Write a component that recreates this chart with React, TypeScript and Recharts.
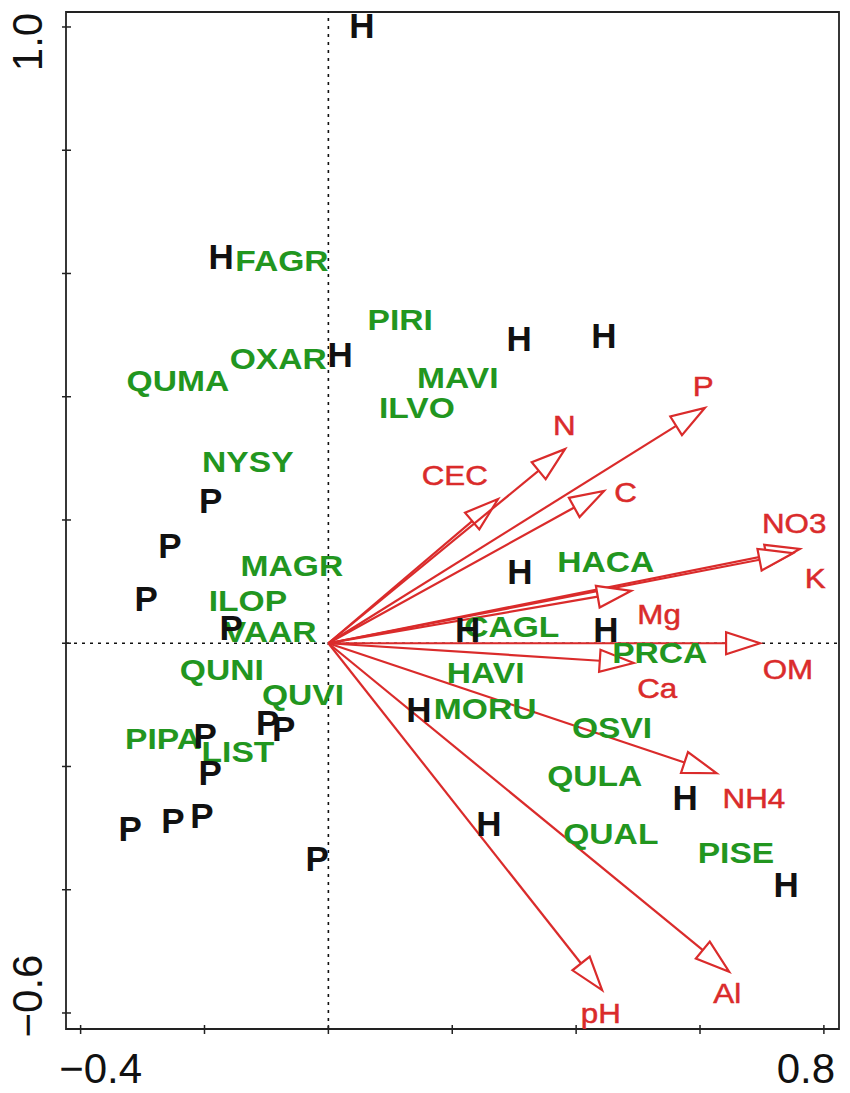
import { ReferenceArea, ReferenceLine, Scatter, ScatterChart, XAxis, YAxis } from "recharts";

// sites (H / P)
const SITE_LABELS = ["H", "H", "H", "H", "H", "H", "H", "H", "H", "H", "H", "H", "P", "P", "P", "P", "P", "P", "P", "P", "P", "P", "P", "P"];
const SITE_X = [0.054, -0.173, 0.019, 0.308, 0.445, 0.309, 0.225, 0.448, 0.146, 0.259, 0.576, 0.739, -0.19, -0.256, -0.294, -0.157, -0.199, -0.098, -0.072, -0.191, -0.32, -0.251, -0.204, -0.018];
const SITE_Y = [1.003, 0.628, 0.468, 0.495, 0.5, 0.116, 0.022, 0.022, -0.107, -0.293, -0.251, -0.391, 0.232, 0.158, 0.072, 0.025, -0.149, -0.129, -0.138, -0.209, -0.3, -0.287, -0.279, -0.35];

// species scores
const SPECIES = ["FAGR", "PIRI", "OXAR", "QUMA", "MAVI", "ILVO", "NYSY", "MAGR", "ILOP", "VAAR", "QUNI", "QUVI", "PIPA", "LIST", "HACA", "CAGL", "PRCA", "HAVI", "MORU", "OSVI", "QULA", "QUAL", "PISE"];
const SPECIES_X = [-0.075, 0.116, -0.081, -0.243, 0.209, 0.143, -0.13, -0.059, -0.13, -0.094, -0.172, -0.041, -0.267, -0.146, 0.448, 0.296, 0.535, 0.254, 0.253, 0.458, 0.43, 0.456, 0.658];
const SPECIES_Y = [0.622, 0.526, 0.463, 0.426, 0.432, 0.383, 0.296, 0.127, 0.07, 0.02, -0.043, -0.082, -0.154, -0.176, 0.133, 0.028, -0.014, -0.047, -0.105, -0.136, -0.214, -0.308, -0.34];

// soil variables: arrow tips and label positions
const VARIABLES = ["CEC", "N", "P", "C", "NO3", "K", "Mg", "OM", "Ca", "NH4", "Al", "pH"];
const ARROW_X = [0.274, 0.382, 0.608, 0.445, 0.761, 0.75, 0.489, 0.697, 0.493, 0.627, 0.647, 0.442];
const ARROW_Y = [0.234, 0.315, 0.382, 0.247, 0.153, 0.146, 0.085, 0, -0.032, -0.211, -0.533, -0.563];
const VAR_LABEL_X = [0.204, 0.381, 0.605, 0.48, 0.752, 0.786, 0.534, 0.742, 0.531, 0.687, 0.644, 0.44];
const VAR_LABEL_Y = [0.273, 0.354, 0.417, 0.245, 0.195, 0.106, 0.047, -0.042, -0.073, -0.251, -0.568, -0.6];

const X_TICKS = [-0.4, -0.2, 0, 0.2, 0.4, 0.6, 0.8];
const X_TICK_LABELS = ["\u22120.4", "", "", "", "", "", "0.8"];
const Y_TICKS = [-0.6, -0.4, -0.2, 0, 0.2, 0.4, 0.6, 0.8, 1.0];
const Y_TICK_LABELS = ["\u22120.6", "", "", "", "", "", "", "", "1.0"];

const X_DOMAIN: [number, number] = [-0.4236, 0.8244];
const Y_DOMAIN: [number, number] = [-0.626, 1.0243];

const FONT = "'Liberation Sans', Arial, Helvetica, sans-serif";
const RED = "#da2b2b";
const GREEN = "#22961f";
const INK = "#111111";

const siteData = SITE_LABELS.map((label, i) => ({ x: SITE_X[i], y: SITE_Y[i], label }));
const speciesData = SPECIES.map((label, i) => ({ x: SPECIES_X[i], y: SPECIES_Y[i], label }));
const varLabelData = VARIABLES.map((label, i) => ({ x: VAR_LABEL_X[i], y: VAR_LABEL_Y[i], label }));

function CenteredText({ cx, cy, text, size, weight, color, stretch, outline = 0 }: { cx: number; cy: number; text: string; size: number; weight: number; color: string; stretch: number; outline?: number }) {
  const cap = size * 0.716;
  return (
    <text
      fill={color}
      fontFamily={FONT}
      fontSize={size}
      fontWeight={weight}
      stroke={outline ? color : "none"}
      strokeWidth={outline}
      textAnchor="middle"
      transform={`translate(${cx},${cy}) scale(${stretch},1)`}
      x={0}
      y={cap / 2}
    >
      {text}
    </text>
  );
}

function ArrowShape(props: any) {
  const { x1, y1, x2, y2 } = props;
  const dx = x2 - x1;
  const dy = y2 - y1;
  const len = Math.hypot(dx, dy) || 1;
  const ux = dx / len;
  const uy = dy / len;
  const headLen = 34;
  const half = 11;
  const bx = x2 - ux * headLen;
  const by = y2 - uy * headLen;
  const points = `${x2},${y2} ${bx - uy * half},${by + ux * half} ${bx + uy * half},${by - ux * half}`;
  return (
    <g>
      <line stroke={RED} strokeWidth={2.2} x1={x1} x2={bx} y1={y1} y2={by} />
      <polygon fill="#ffffff" points={points} stroke={RED} strokeWidth={2.2} />
    </g>
  );
}

function XTick({ x = 0, y = 0, index = 0 }: any) {
  const label = X_TICK_LABELS[index];
  const nudge = index === 0 ? 20 : -18;
  return (
    <g>
      <line stroke="#222" strokeWidth={1.5} x1={x} x2={x} y1={y - 4} y2={y + 5} />
      {label ? (
        <text fill={INK} fontFamily={FONT} fontSize={42} textAnchor="middle" x={x + nudge} y={y + 54}>
          {label}
        </text>
      ) : null}
    </g>
  );
}

function YTick({ x = 0, y = 0, index = 0 }: any) {
  const label = Y_TICK_LABELS[index];
  const nudge = index === 0 ? -17 : 15;
  return (
    <g>
      <line stroke="#222" strokeWidth={1.5} x1={x - 4} x2={x + 5} y1={y} y2={y} />
      {label ? (
        <text fill={INK} fontFamily={FONT} fontSize={42} textAnchor="middle" transform={`translate(${x - 24},${y + nudge}) rotate(-90)`}>
          {label}
        </text>
      ) : null}
    </g>
  );
}

export default function App() {
  return (
    <div style={{ background: "#ffffff", height: 1093, left: 0, position: "absolute", top: 0, width: 850 }}>
      <ScatterChart height={1093} margin={{ bottom: 0, left: 0, right: 11, top: 12 }} width={850}>
        <XAxis
          allowDataOverflow
          axisLine={false}
          dataKey="x"
          domain={X_DOMAIN}
          height={64}
          interval={0}
          tick={<XTick />}
          tickLine={false}
          tickMargin={0}
          tickSize={0}
          ticks={X_TICKS}
          type="number"
        />
        <YAxis
          allowDataOverflow
          axisLine={false}
          dataKey="y"
          domain={Y_DOMAIN}
          interval={0}
          tick={<YTick />}
          tickLine={false}
          tickMargin={0}
          tickSize={0}
          ticks={Y_TICKS}
          type="number"
          width={66}
        />
        <ReferenceArea fill="none" stroke="#222" strokeWidth={1.8} x1={X_DOMAIN[0]} x2={X_DOMAIN[1]} y1={Y_DOMAIN[0]} y2={Y_DOMAIN[1]} />
        <ReferenceLine stroke="#111" strokeDasharray="3 5" strokeWidth={1.6} x={0} />
        <ReferenceLine stroke="#111" strokeDasharray="3 5" strokeWidth={1.6} y={0} />
        {VARIABLES.map((name, i) => (
          <ReferenceLine
            key={name}
            segment={[
              { x: 0, y: 0 },
              { x: ARROW_X[i], y: ARROW_Y[i] },
            ]}
            shape={ArrowShape}
          />
        ))}
        <Scatter
          data={varLabelData}
          isAnimationActive={false}
          shape={(p: any) => <CenteredText color={RED} cx={p.cx} cy={p.cy} outline={0.5} size={28} stretch={1.12} text={p.payload.label} weight={400} />}
        />
        <Scatter
          data={speciesData}
          isAnimationActive={false}
          shape={(p: any) => <CenteredText color={GREEN} cx={p.cx} cy={p.cy} size={30} stretch={1.12} text={p.payload.label} weight={700} />}
        />
        <Scatter
          data={siteData}
          isAnimationActive={false}
          shape={(p: any) => <CenteredText color={INK} cx={p.cx} cy={p.cy} size={35} stretch={1} text={p.payload.label} weight={700} />}
        />
      </ScatterChart>
    </div>
  );
}
